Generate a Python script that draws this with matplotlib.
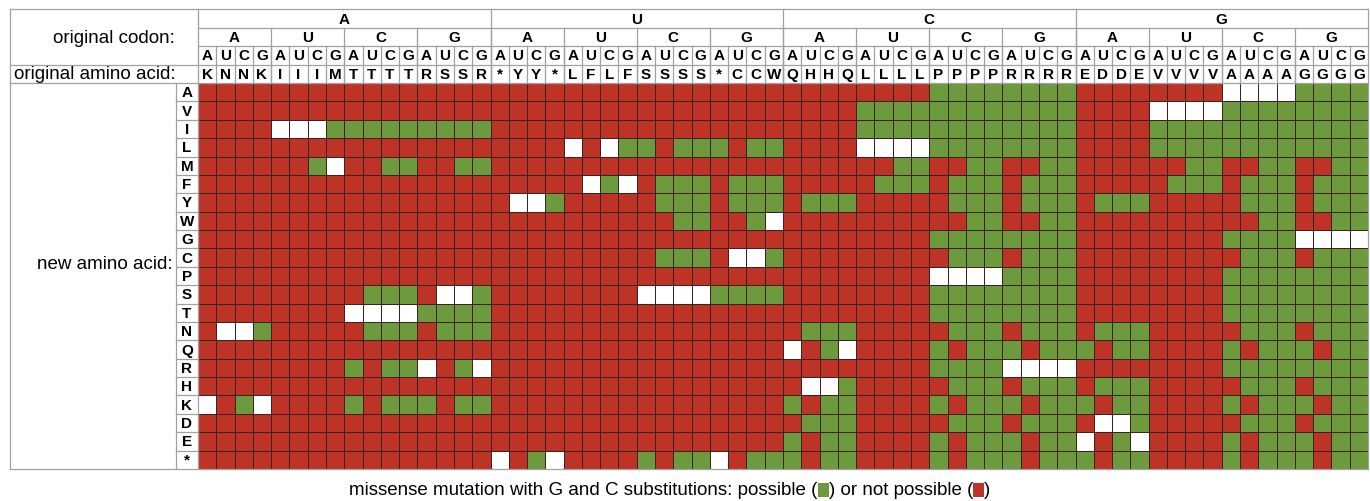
import numpy as np
import matplotlib.pyplot as plt
from matplotlib.colors import ListedColormap
from matplotlib.patches import Rectangle
from matplotlib.offsetbox import TextArea, DrawingArea, HPacker, AnchoredOffsetbox

plt.rcParams['font.family'] = ['Liberation Sans', 'DejaVu Sans']

# --- data --- #
bases = ["A", "U", "C", "G"]
orig_aa = list("KNNKIIIMTTTTRSSR*YY*LFLFSSSS*CCWQHHQLLLLPPPPRRRREDDEVVVVAAAAGGGG")
new_aa = list("AVILMFYWGCPSTNQRHKDE*")

# new amino acids reachable from each codon (columns, A/U/C/G order)
possible = [
    "", "", "K", "N",
    "", "", "M", "I",
    "IRK", "ISN", "IMSNRK", "IMSNRK",
    "ITK", "ITN", "IMTNRK", "IMSTNK",
    "", "", "*", "Y",
    "", "", "F", "L",
    "L*", "FYC", "LFYWC*", "LFYWC*",
    "LS", "FYS", "LFYWS*", "LFYCS*",
    "KE*", "YND", "YQNKDE*", "YNHKDE*",
    "VI", "VIF", "VIMF", "VIMF",
    "AVILGSTQRKE*", "AVILFYGCSTNRHD", "AVILMFYWGCSTNQRHKDE*", "AVILMFYWGCSTNQRHKDE*",
    "AVILGPSTQKE*", "AVILFYGCPSTNHD", "AVILMFYWGCPSTNQHKDE*", "AVILMFYWGCPSTNQHKDE*",
    "QK*", "YNH", "YNQHKE*", "YNQHKD*",
    "IL", "ILF", "ILMF", "ILMF",
    "VILGPSTQRKE*", "VILFYGCPSTNRHD", "VILMFYWGCPSTNQRHKDE*", "VILMFYWGCPSTNQRHKDE*",
    "AVILPSTQRKE*", "AVILFYCPSTNRHD", "AVILMFYWCPSTNQRHKDE*", "AVILMFYWCPSTNQRHKDE*",
]

green = '#6d9a3d'
red = '#bd3427'
gray = '#a0a0a0'

# 0 = same amino acid, 1 = possible, 2 = not possible
status = np.zeros((len(new_aa), len(orig_aa)))
for r, aa in enumerate(new_aa):
    for c in range(len(orig_aa)):
        if orig_aa[c] == aa:
            status[r, c] = 0
        elif aa in possible[c]:
            status[r, c] = 1
        else:
            status[r, c] = 2

# --- figure --- #
W, H = 1370, 502
fig = plt.figure(figsize=(W / 100, H / 100), dpi=100)
ax = fig.add_axes([198 / W, 1 - 470 / H, 1170 / W, 386 / H])
ncol, nrow = len(orig_aa), len(new_aa)
ax.set_xlim(0, ncol)
ax.set_ylim(nrow, 0)
ax.axis('off')

cmap = ListedColormap(['white', green, red])
ax.pcolormesh(np.arange(ncol + 1), np.arange(nrow + 1), status, cmap=cmap,
              vmin=-0.5, vmax=2.5, edgecolors='#3a2222', linewidth=0.5)

cw = 1170 / ncol
left = -188 / cw      # left edge of the frame
letter_col = -22 / cw  # left edge of the new amino acid letters


def line(xs, ys, **kw):
    ax.plot(xs, ys, color=gray, linewidth=0.9, clip_on=False, **kw)


# frame and header lines
line([left, ncol], [-4, -4])
line([0, ncol], [-3, -3])
line([0, ncol], [-2, -2])
line([left, ncol], [-1, -1])
line([left, ncol], [0, 0])
line([left, ncol], [nrow, nrow])
line([left, left], [-4, nrow])
line([ncol, ncol], [-4, nrow])
line([0, 0], [-4, nrow])
for x in range(16, ncol, 16):
    line([x, x], [-4, 0])
for x in range(4, ncol, 4):
    line([x, x], [-3, 0])
for x in range(1, ncol):
    line([x, x], [-2, 0])
line([letter_col, letter_col], [0, nrow])
for y in range(1, nrow):
    line([letter_col, 0], [y, y])

# codon header
hdr = dict(ha='center', va='center', fontsize=11, fontweight='bold', clip_on=False)
for i, b1 in enumerate(bases):
    ax.text(16 * i + 8, -3.5, b1, **hdr)
    for j, b2 in enumerate(bases):
        ax.text(16 * i + 4 * j + 2, -2.5, b2, **hdr)
        for k, b3 in enumerate(bases):
            ax.text(16 * i + 4 * j + k + 0.5, -1.5, b3, **hdr)
for c, aa in enumerate(orig_aa):
    ax.text(c + 0.5, -0.5, aa, **hdr)
for r, aa in enumerate(new_aa):
    ax.text(letter_col / 2, r + 0.5, aa, **hdr)

lbl = dict(ha='right', va='center', fontsize=13.5, clip_on=False)
ax.text(-1.25, -2.5, "original codon:", **lbl)
ax.text(-1.25, -0.5, "original amino acid:", **lbl)
ax.text(-1.4, 9.8, "new amino acid:", **lbl)

# legend line under the grid
def swatch(color):
    da = DrawingArea(8, 10, 0, 0)
    da.add_artist(Rectangle((0, 0), 8, 10, facecolor=color, edgecolor='none'))
    return da


tp = dict(fontsize=13.5)
parts = [TextArea("missense mutation with G and C substitutions: possible (", textprops=tp),
         swatch(green),
         TextArea(") or not possible (", textprops=tp),
         swatch(red),
         TextArea(")", textprops=tp)]
box = AnchoredOffsetbox(loc='center', child=HPacker(children=parts, align='center', pad=0, sep=0),
                        bbox_to_anchor=(670 / W, 1 - 491 / H), bbox_transform=fig.transFigure,
                        frameon=False, pad=0, borderpad=0)
fig.add_artist(box)

fig.savefig('out.png', dpi=100)
